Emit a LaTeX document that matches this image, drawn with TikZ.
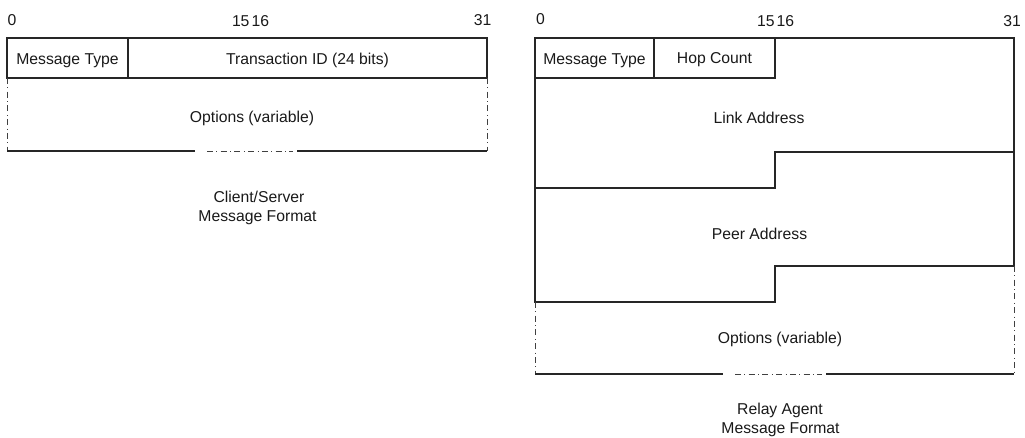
\documentclass[tikz,border=0pt]{standalone}
\usepackage{fontspec}
\setmainfont{Liberation Sans}
\begin{document}
\begin{tikzpicture}[x=0.75pt,y=-0.75pt,
  every node/.style={inner sep=0pt,outer sep=0pt,font=\fontsize{11.8}{14}\selectfont,text=black!90},
  lbl/.style={anchor=base},
  solidline/.style={draw=black!85,line width=0.8pt},
  dashline/.style={draw=black!75,line width=0.7pt,dash pattern=on 4.5pt off 2.6pt on 0.6pt off 2.6pt},
]
\useasboundingbox (0,0) rectangle (1025,437);

% ---------- Client/Server ----------
\node[lbl] (l0) at (12,25) {0};
\node[anchor=base east] (l15) at (249.5,26.5) {15};
\node[anchor=base west] (l16) at (251.5,26.5) {16};
\node[lbl] (l31) at (482.5,25) {31};

\coordinate (la) at (7,38);
\coordinate (lb) at (487,78);
\draw[solidline] (la) rectangle (lb);
\draw[solidline] (128,38) -- (128,78);
\node[lbl] (lmt) at (67.5,64) {Message Type};
\node[lbl] (ltid) at (307.5,64) {Transaction ID (24 bits)};

\draw[dashline] (7,78) -- (7,151);
\draw[dashline] (487,78) -- (487,151);
\draw[solidline] (7,151) -- (195,151);
\draw[dashline] (207,151) -- (293,151);
\draw[solidline] (297,151) -- (487,151);
\node[lbl] (lopt) at (252,122) {Options (variable)};

\node[lbl] (lcap1) at (259,202.7) {Client/Server};
\node[lbl] (lcap2) at (257.5,221.7) {Message Format};

% ---------- Relay Agent ----------
\node[lbl] (r0) at (540.5,24) {0};
\node[anchor=base east] (r15) at (774.5,26.5) {15};
\node[anchor=base west] (r16) at (776.5,26.5) {16};
\node[lbl] (r31) at (1012,26.5) {31};

\draw[solidline] (535,38) rectangle (775,78);
\draw[solidline] (654,38) -- (654,78);
\draw[solidline] (775,38) -- (1014,38) -- (1014,266);
\node[lbl] (rmt) at (594.5,64) {Message Type};
\node[lbl] (rhc) at (714.5,63) {Hop Count};

\draw[solidline] (535,78) -- (535,188) -- (775,188) -- (775,152) -- (1014,152);
\node[lbl] (rla) at (759,123) {Link Address};

\draw[solidline] (535,188) -- (535,302) -- (775,302) -- (775,266) -- (1014,266);
\node[lbl] (rpa) at (759.5,239) {Peer Address};

\draw[dashline] (535,302) -- (535,374);
\draw[dashline] (1014,266) -- (1014,374);
\draw[solidline] (535,374) -- (723,374);
\draw[dashline] (735,374) -- (822,374);
\draw[solidline] (826,374) -- (1014,374);
\node[lbl] (ropt) at (780,343) {Options (variable)};

\node[lbl] (rcap1) at (780,414) {Relay Agent};
\node[lbl] (rcap2) at (780.5,433) {Message Format};
\end{tikzpicture}
\end{document}
